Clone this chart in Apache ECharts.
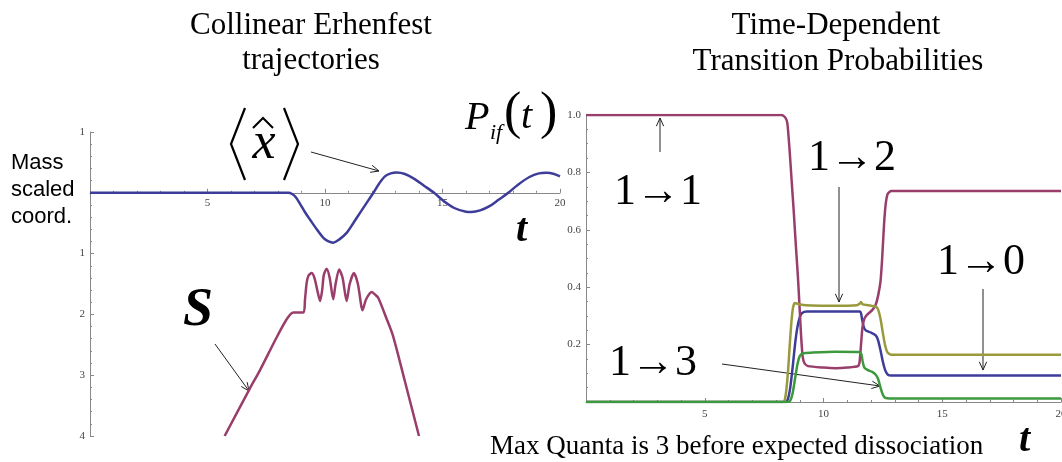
<!DOCTYPE html>
<html><head><meta charset="utf-8">
<script src="https://cdn.jsdelivr.net/npm/echarts@6/dist/echarts.min.js"></script>
<style>html,body{margin:0;padding:0;background:#fff}#c{width:1062px;height:462px}</style>
</head><body><div id="c"></div>
<script>
// ---- Left panel: Ehrenfest trajectories ----
const tXhat = [0,8.45,8.6,8.75,8.95,9.15,9.36,9.65,9.93,10.15,10.35,10.6,10.92,11.2,11.49,11.8,12.06,12.3,12.55,12.8,13.05,13.4,13.8,14.2,14.64,15.0,15.5,16.0,16.24,16.6,17.0,17.4,17.8,18.2,18.7,19.1,19.43,19.75,20];
const xhat  = [0,0,-0.02,-0.07,-0.19,-0.32,-0.44,-0.6,-0.74,-0.8,-0.82,-0.77,-0.66,-0.5,-0.33,-0.15,0.0,0.15,0.27,0.32,0.335,0.31,0.23,0.12,0.0,-0.12,-0.25,-0.31,-0.315,-0.29,-0.22,-0.11,0.0,0.13,0.26,0.32,0.33,0.31,0.27];
const tS = [5.73,6.8,7.23,7.94,8.37,8.65,9.08,9.15,9.22,9.3,9.43,9.55,9.7,9.79,9.88,9.95,10.07,10.2,10.35,10.45,10.6,10.75,10.92,11.05,11.23,11.4,11.6,11.75,11.99,12.15,12.27,12.6,12.9,13.4,14.0];
const sVal = [-4,-3.22,-2.92,-2.38,-2.08,-1.97,-1.97,-1.75,-1.48,-1.36,-1.32,-1.4,-1.65,-1.78,-1.6,-1.35,-1.25,-1.4,-1.75,-1.5,-1.26,-1.4,-1.78,-1.5,-1.32,-1.5,-1.93,-1.75,-1.63,-1.68,-1.73,-2.05,-2.36,-3.1,-4];
const leftXTicks = [0,5,10,15,20];
const leftYTicks = [-4,-3,-2,-1,0,1];

// ---- Right panel: transition probabilities ----
const t10 = [0,8.4,8.5,8.6,8.7,8.8,8.9,9.0,9.1,9.3,10.5,11.54,11.62,11.7,11.8,12.0,12.2,12.3,12.4,12.5,12.6,12.7,12.85,20];
const p10 = [0,0,0.01,0.05,0.12,0.2,0.26,0.295,0.31,0.315,0.315,0.315,0.29,0.26,0.248,0.242,0.232,0.215,0.18,0.14,0.11,0.096,0.092,0.092];
const t11 = [0,8.24,8.4,8.48,8.57,8.66,8.75,8.84,8.92,8.98,9.05,9.12,9.2,9.35,10,10.5,11,11.45,11.52,11.58,11.64,11.72,11.85,12.05,12.2,12.31,12.4,12.47,12.55,12.62,12.7,12.85,20];
const p11 = [1,1,0.99,0.97,0.88,0.77,0.66,0.54,0.44,0.35,0.24,0.16,0.135,0.125,0.12,0.118,0.12,0.125,0.14,0.2,0.26,0.29,0.305,0.32,0.34,0.375,0.42,0.5,0.62,0.69,0.725,0.735,0.735];
const t12 = [0,8.3,8.4,8.5,8.58,8.65,8.72,8.8,9.0,9.5,10.5,11.4,11.52,11.58,11.65,11.9,12.2,12.3,12.4,12.5,12.6,12.7,12.85,20];
const p12 = [0,0,0.02,0.1,0.2,0.28,0.33,0.345,0.34,0.336,0.335,0.337,0.342,0.348,0.34,0.337,0.332,0.322,0.29,0.24,0.195,0.172,0.165,0.165];
const t13 = [0,8.5,8.6,8.7,8.8,8.9,9.0,9.15,9.5,10.5,11.5,11.6,11.65,11.72,11.85,12.05,12.2,12.3,12.4,12.5,12.6,12.8,20];
const p13 = [0,0,0.005,0.03,0.08,0.13,0.16,0.17,0.172,0.175,0.174,0.165,0.14,0.12,0.112,0.105,0.095,0.08,0.05,0.025,0.014,0.012,0.012];
const rightXTicks = [0,5,10,15,20];
const rightYTicks = [0,0.2,0.4,0.6,0.8,1.0];

const zip = (a,b) => a.map((v,i)=>[v,b[i]]);
const BLUE='#3d3d99', MAG='#993d6b', GOLD='#99993d', GREEN='#3d993d';
const AX='#888', LBL={color:'#444', fontFamily:'Liberation Serif', fontSize:11};

// left grid geometry
const LG = {left:90, right:502, top:132, bottom:26};
const lgH = 462 - LG.top - LG.bottom;
const yMinL = leftYTicks[0], yMaxL = leftYTicks[leftYTicks.length-1];
const zeroOffset = -(0 - yMinL) / (yMaxL - yMinL) * lgH; // lift x axis to y = 0

function xAx(g, ticks, margin, offset){
  return {gridIndex:g, type:'value', position:'bottom', offset:offset||0,
    min:ticks[0], max:ticks[ticks.length-1], interval:ticks[1]-ticks[0],
    axisLine:{show:true,onZero:false,lineStyle:{color:AX,width:1}},
    axisTick:{show:true,inside:true,length:4,lineStyle:{color:AX}},
    minorTick:{show:true,splitNumber:5,length:2,lineStyle:{color:AX}},
    splitLine:{show:false},
    axisLabel:Object.assign({margin:margin,formatter:v=>v===0?'':String(v)},LBL)};
}
function yAx(g, ticks, fmt, minor){
  return {gridIndex:g, type:'value', min:ticks[0], max:ticks[ticks.length-1], interval:+(ticks[1]-ticks[0]).toFixed(3),
    axisLine:{show:true,onZero:false,lineStyle:{color:AX,width:1}},
    axisTick:{show:true,inside:true,length:4,lineStyle:{color:AX}},
    minorTick:{show:true,splitNumber:minor,length:2,lineStyle:{color:AX}},
    splitLine:{show:false},
    axisLabel:Object.assign({margin:5,formatter:fmt},LBL)};
}
function line(g, data, color, smooth){
  return {type:'line', xAxisIndex:g, yAxisIndex:g, data:data, showSymbol:false, symbol:'none',
    smooth:smooth, lineStyle:{color:color,width:2.5}, itemStyle:{color:color}, emphasis:{disabled:true}};
}
function arrow(x1,y1,x2,y2){
  const a=Math.atan2(y2-y1,x2-x1), L=9, w=0.42, c='#222';
  return [{type:'line',shape:{x1:x1,y1:y1,x2:x2,y2:y2},style:{stroke:c,lineWidth:1}},
    {type:'polyline',shape:{points:[[x2-L*Math.cos(a-w),y2-L*Math.sin(a-w)],[x2,y2],[x2-L*Math.cos(a+w),y2-L*Math.sin(a+w)]]},style:{stroke:c,lineWidth:1,fill:null}}];
}
function txt(s,x,y,font,align){
  return {type:'text',x:x,y:y,style:{text:s,font:font,fill:'#000',align:align||'left',verticalAlign:'middle'}};
}
const SERIF='"Liberation Serif", "Times New Roman", serif';
const graphics = [].concat(
  txt('Collinear Erhenfest',311,26,'31px '+SERIF,'center'),
  txt('trajectories',311,61,'31px '+SERIF,'center'),
  txt('Time-Dependent',836,26,'31px '+SERIF,'center'),
  txt('Transition Probabilities',838,62,'31px '+SERIF,'center'),
  txt('Mass',11,163,'22px "Liberation Sans", Arial, sans-serif'),
  txt('scaled',11,190,'22px "Liberation Sans", Arial, sans-serif'),
  txt('coord.',11,217,'22px "Liberation Sans", Arial, sans-serif'),
  [{type:'polyline',shape:{points:[[245,108],[231,144],[245,180]]},style:{stroke:'#000',lineWidth:2.2,fill:null}},
   {type:'polyline',shape:{points:[[284,108],[298,144],[284,180]]},style:{stroke:'#000',lineWidth:2.2,fill:null}},
   {type:'polyline',shape:{points:[[253,128],[263,118],[273,128]]},style:{stroke:'#000',lineWidth:2,fill:null}}],
  txt('x',264,144,'italic 52px '+SERIF,'center'),
  txt('t',516,231,'italic bold 40px '+SERIF),
  txt('S',183,311,'italic bold 54px '+SERIF),
  txt('P',465,118,'italic 40px '+SERIF),
  txt('if',490,133,'italic 22px '+SERIF),
  txt('(',504,114,'52px '+SERIF),
  txt('t',521,117,'italic 40px '+SERIF),
  txt(')',540,114,'52px '+SERIF),
  txt('1\u21921',614,192,'44px '+SERIF),
  txt('1\u21922',808,158,'44px '+SERIF),
  txt('1\u21920',937,262,'44px '+SERIF),
  txt('1\u21923',609,363,'44px '+SERIF),
  txt('t',1019,441,'italic bold 40px '+SERIF),
  txt('Max Quanta is 3 before expected dissociation',490,447,'27px '+SERIF),
  arrow(311,152,379,171),
  arrow(215,344,249,391),
  arrow(660,152,660,118),
  arrow(839,187,839,302),
  arrow(983,289,983,370),
  arrow(722,364,880,386)
);

const chart = echarts.init(document.getElementById('c'), null, {renderer:'canvas'});
chart.setOption({
  animation:false,
  backgroundColor:'#fff',
  grid:[
    Object.assign({outerBoundsMode:'none', containLabel:false}, LG),
    {left:586, right:1, top:115, bottom:60, outerBoundsMode:'none', containLabel:false}
  ],
  xAxis:[xAx(0,leftXTicks,5,zeroOffset), xAx(1,rightXTicks,7,0)],
  yAxis:[
    yAx(0,leftYTicks,v=>v===0?'':String(Math.abs(v)),5),
    yAx(1,rightYTicks,v=>v===0?'':v.toFixed(1),4)
  ],
  series:[
    line(0, zip(tXhat,xhat), BLUE, 0.3),
    line(0, zip(tS,sVal), MAG, 0.25),
    line(1, zip(t10,p10), BLUE, 0.2),
    line(1, zip(t11,p11), MAG, 0.2),
    line(1, zip(t12,p12), GOLD, 0.2),
    line(1, zip(t13,p13), GREEN, 0.2)
  ],
  graphic: graphics
});
</script></body></html>
